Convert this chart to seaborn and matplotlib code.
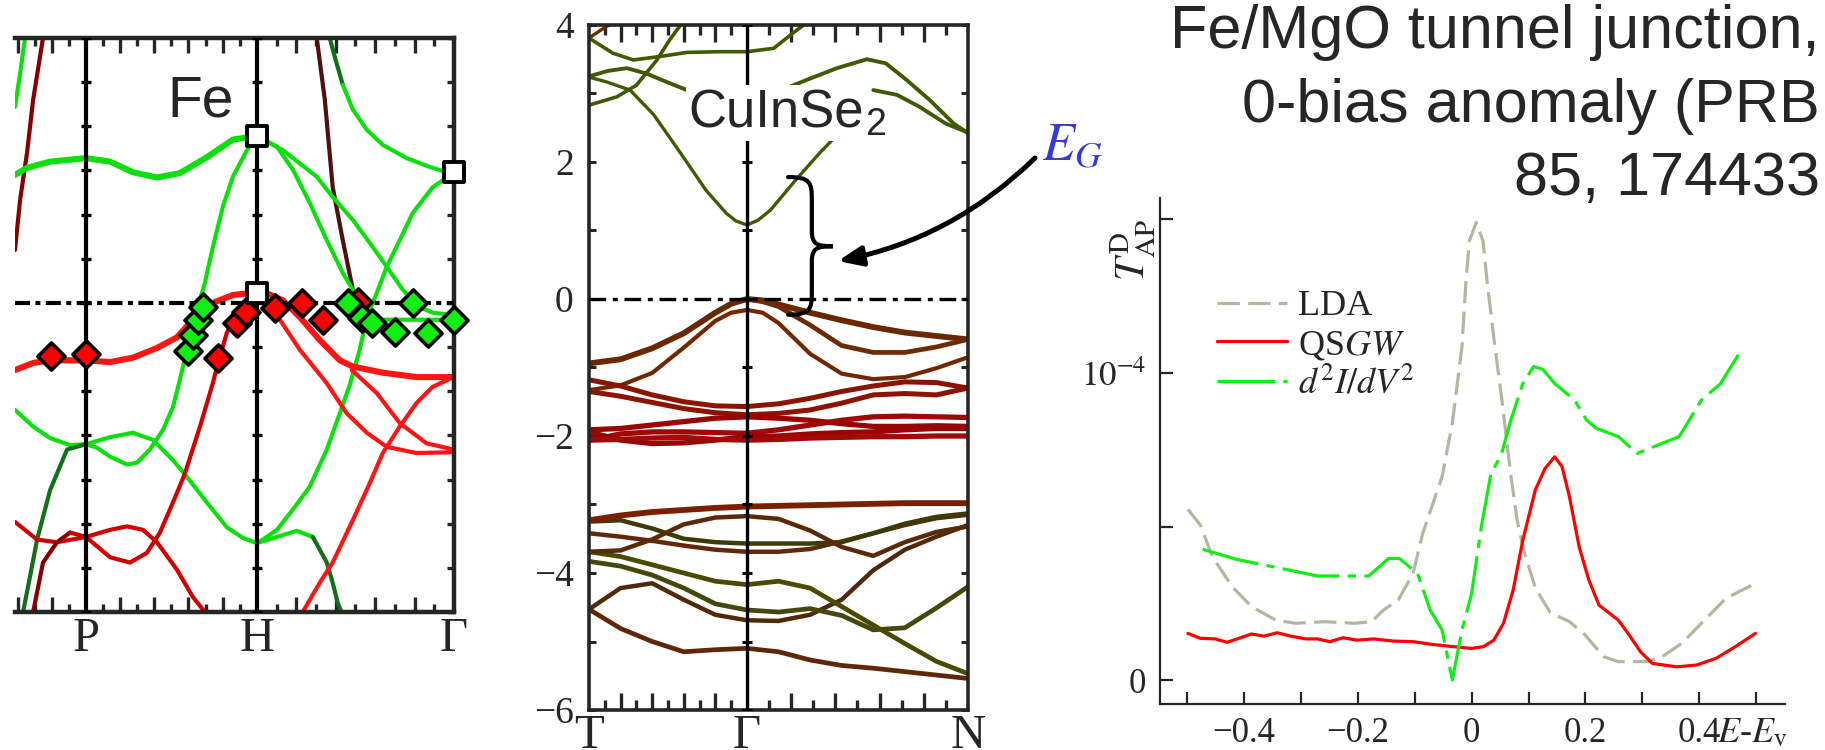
import numpy as np
import matplotlib
matplotlib.use("Agg")
import matplotlib.pyplot as plt
import seaborn as sns
from matplotlib.path import Path
from matplotlib.patches import PathPatch, FancyArrowPatch

# ---------------- Fe bands (k along N-P-H-Gamma, E in eV) ----------------
fe_kP, fe_kH, fe_kG = 0.5, 1.366, 2.366

fe_g0_k = [0.140, 0.166, 0.191]
fe_g0_e = [2.22, 2.60, 3.00]
fe_m1_k = [0.140, 0.166, 0.201, 0.232, 0.282]
fe_m1_e = [0.60, 1.17, 1.70, 2.30, 3.00]
fe_g1_k = [0.140, 0.201, 0.318, 0.500, 0.622, 0.738, 0.860, 0.976, 1.113, 1.245, 1.366]
fe_g1_e = [1.45, 1.53, 1.60, 1.64, 1.60, 1.48, 1.42, 1.47, 1.65, 1.85, 1.89]
fe_g2_k = [1.366, 1.468, 1.549, 1.635, 1.721, 1.802, 1.863, 1.924, 2.005, 2.177, 2.364]
fe_g2_e = [1.89, 1.77, 1.51, 1.13, 0.71, 0.34, 0.11, -0.11, -0.19, -0.19, -0.19]
fe_g3_k = [1.366, 1.498, 1.670, 1.751, 1.853, 1.939, 2.025, 2.106, 2.192, 2.258, 2.364]
fe_g3_e = [1.89, 1.73, 1.43, 1.20, 0.94, 0.68, 0.41, 0.15, -0.05, -0.11, -0.14]
fe_dg4_k = [1.736, 1.761, 1.802]
fe_dg4_e = [3.00, 2.79, 2.47]
fe_g4_k = [1.802, 1.853, 1.924, 2.005, 2.126, 2.243, 2.329, 2.364]
fe_g4_e = [2.47, 2.19, 1.96, 1.79, 1.64, 1.54, 1.48, 1.47]
fe_g5_k = [1.366, 1.397, 1.468, 1.549, 1.635, 1.721, 1.787, 1.837, 1.888, 1.924, 1.974,
           2.025, 2.091, 2.157, 2.258, 2.364]
fe_g5_e = [-2.72, -2.68, -2.57, -2.34, -2.08, -1.66, -1.25, -0.93, -0.53, -0.16, 0.11,
           0.41, 0.71, 1.02, 1.31, 1.47]
fe_g6_k = [0.500, 0.556, 0.622, 0.708, 0.758, 0.824, 0.890, 0.941, 0.976, 1.012, 1.042,
           1.078, 1.103, 1.143, 1.194, 1.245, 1.316, 1.366]
fe_g6_e = [-1.60, -1.64, -1.74, -1.83, -1.81, -1.66, -1.44, -1.18, -0.87, -0.53, -0.23,
           0.03, 0.23, 0.63, 1.09, 1.43, 1.73, 1.89]
fe_g7_k = [0.140, 0.232, 0.318, 0.419, 0.500, 0.622, 0.738, 0.839, 0.941, 1.012, 1.113,
           1.214, 1.295, 1.366]
fe_g7_e = [-1.21, -1.40, -1.53, -1.61, -1.60, -1.52, -1.47, -1.55, -1.78, -1.97, -2.26,
           -2.54, -2.66, -2.72]
fe_g8_k = [1.366, 1.468, 1.569, 1.650]
fe_g8_e = [-2.72, -2.65, -2.58, -2.65]
fe_dg8_k = [1.650, 1.721, 1.751, 1.777, 1.797]
fe_dg8_e = [-2.65, -2.94, -3.17, -3.40, -3.51]
fe_dg9_k = [0.181, 0.216, 0.252, 0.318, 0.404, 0.500]
fe_dg9_e = [-3.50, -3.10, -2.68, -2.12, -1.66, -1.60]
fe_r1_k = [0.140, 0.232, 0.318, 0.500, 0.622, 0.738, 0.860, 0.961, 1.042, 1.143, 1.245,
           1.366, 1.417, 1.498, 1.584, 1.685, 1.787, 1.853, 2.005, 2.177, 2.364]
fe_r1_e = [-0.76, -0.68, -0.65, -0.65, -0.67, -0.62, -0.51, -0.39, -0.19, 0.00, 0.09,
           0.12, 0.11, 0.03, -0.16, -0.42, -0.65, -0.72, -0.79, -0.84, -0.84]
fe_r2_k = [1.397, 1.483, 1.584, 1.635, 1.721, 1.822, 1.924, 2.025, 2.177, 2.364]
fe_r2_e = [0.03, -0.19, -0.53, -0.67, -0.91, -1.25, -1.47, -1.63, -1.70, -1.69]
fe_r3_k = [1.848, 1.974, 2.091, 2.227, 2.364]
fe_r3_e = [-0.76, -1.02, -1.36, -1.59, -1.66]
fe_r4_k = [1.599, 1.685, 1.751, 1.853, 1.939, 2.005, 2.091, 2.177, 2.258, 2.364]
fe_r4_e = [-3.50, -3.17, -2.94, -2.46, -2.04, -1.70, -1.40, -1.13, -0.95, -0.84]
fe_r5_k = [0.140, 0.252, 0.353, 0.500, 0.622, 0.708, 0.789, 0.860, 0.961, 1.042, 1.103]
fe_r5_e = [-2.48, -2.68, -2.71, -2.65, -2.57, -2.53, -2.57, -2.71, -3.02, -3.33, -3.50]
fe_dr6_k = [0.232, 0.282, 0.353, 0.419]
fe_dr6_e = [-3.50, -2.94, -2.71, -2.60]
fe_r6_k = [0.419, 0.500, 0.622, 0.723, 0.809, 0.875, 0.941, 1.002, 1.078, 1.143, 1.169,
           1.214, 1.245, 1.316, 1.366]
fe_r6_e = [-2.60, -2.65, -2.88, -2.94, -2.83, -2.60, -2.26, -1.93, -1.40, -0.91, -0.68,
           -0.34, -0.19, -0.02, 0.07]
fe_m2_k = [1.670, 1.711, 1.751, 1.802, 1.853, 1.878]
fe_m2_e = [3.00, 2.30, 1.31, 0.71, 0.15, 0.03]

# experimental points
fe_sq_k = [1.366, 1.366, 2.366]
fe_sq_e = [1.89, 0.11, 1.48]
fe_red_k = [0.323, 0.500, 1.169, 1.265, 1.311, 1.457, 1.594, 1.701, 1.878]
fe_red_e = [-0.60, -0.58, -0.62, -0.23, -0.10, -0.06, 0.00, -0.19, 0.01]
fe_grn_k = [1.017, 1.042, 1.067, 1.093, 1.827, 1.898, 1.949, 2.065, 2.157, 2.233, 2.366]
fe_grn_e = [-0.55, -0.36, -0.19, -0.05, 0.00, -0.17, -0.23, -0.33, 0.00, -0.34, -0.19]

# ---------------- CuInSe2 bands (T-Gamma-N) ----------------
cis_kT, cis_kG, cis_kN = 0.0, 1.0, 2.4
cis_k13 = [0.0, 0.2, 0.4, 0.6, 0.8, 1.0, 1.2, 1.4, 1.6, 1.8, 2.0, 2.2, 2.4]
cis_k15 = [0.0, 0.2, 0.4, 0.6, 0.8, 0.9, 1.0, 1.1, 1.2, 1.4, 1.6, 1.8, 2.0, 2.2, 2.4]

cis_c1_k = [0.0, 0.11, 0.26, 0.41, 0.58, 0.74, 0.87, 0.93, 1.0, 1.07, 1.15, 1.31, 1.46, 1.54, 1.65]
cis_c1_e = [3.24, 3.17, 3.05, 2.69, 2.13, 1.59, 1.25, 1.14, 1.08, 1.15, 1.30, 1.74, 2.13, 2.32, 2.81]
cis_cb_k = [0.0, 0.12, 0.24, 0.365, 0.49, 0.62, 0.83, 1.0, 1.1, 1.22, 1.38, 1.57, 1.76, 1.88,
            2.01, 2.16, 2.31, 2.40]
cis_cb_e = [3.25, 3.33, 3.37, 3.29, 3.17, 3.05, 2.98, 2.95, 2.98, 3.05, 3.20, 3.37, 3.50, 3.44,
            3.20, 2.90, 2.56, 2.42]
cis_ce_k = [1.80, 1.95, 2.09, 2.26, 2.40]
cis_ce_e = [3.05, 2.98, 2.81, 2.56, 2.43]
cis_cc_k = [0.0, 0.175, 0.30, 0.43, 0.51, 0.58]
cis_cc_e = [2.83, 2.95, 3.12, 3.49, 3.78, 4.0]
cis_ca_k = [0.0, 0.15, 0.28, 0.45, 0.62, 0.83, 1.0, 1.17, 1.29, 1.36]
cis_ca_e = [3.81, 3.59, 3.49, 3.54, 3.60, 3.61, 3.61, 3.66, 3.88, 4.0]
cis_cf_k = [0.0, 0.11, 0.17]
cis_cf_e = [3.81, 3.98, 4.03]

cis_v1_e = [-0.94, -0.88, -0.72, -0.50, -0.20, -0.07, 0.0, -0.02, -0.08, -0.20, -0.31, -0.41,
            -0.49, -0.54, -0.59]
cis_v1b_k = [1.0, 1.1, 1.2, 1.4, 1.6, 1.8, 2.0, 2.2, 2.4]
cis_v1b_e = [0.0, -0.04, -0.11, -0.38, -0.68, -0.78, -0.78, -0.70, -0.59]
cis_v2_e = [-1.33, -1.26, -1.08, -0.71, -0.32, -0.20, -0.16, -0.20, -0.35, -0.80, -1.09, -1.17,
            -1.14, -1.01, -0.85]
cis_v4_e = [-1.18, -1.27, -1.40, -1.50, -1.56, -1.57, -1.53, -1.45, -1.35, -1.27, -1.21, -1.22, -1.30]
cis_v5_e = [-1.35, -1.42, -1.51, -1.60, -1.66, -1.69, -1.67, -1.62, -1.52, -1.40, -1.38, -1.40, -1.30]
cis_v6_e = [-1.91, -1.89, -1.84, -1.79, -1.74, -1.72, -1.74, -1.77, -1.82, -1.86, -1.86, -1.85, -1.86]
cis_v7_e = [-2.06, -1.97, -1.94, -1.94, -1.95, -1.96, -1.91, -1.84, -1.77, -1.72, -1.71, -1.72, -1.73]
cis_v8_e = [-1.94, -2.06, -2.11, -2.10, -2.06, -2.01, -2.00, -1.97, -1.95, -1.94, -1.91, -1.89, -1.89]
cis_v9_e = [-2.06, -2.05, -2.03, -2.02, -2.05, -2.06, -2.05, -2.03, -2.02, -2.01, -2.01, -2.00, -2.00]

cis_l1_e = [-3.23, -3.16, -3.11, -3.08, -3.05, -3.03, -3.02, -3.01, -3.00, -2.99, -2.98, -2.98, -2.98]
cis_l2_e = [-3.69, -3.67, -3.51, -3.29, -3.19, -3.17, -3.21, -3.38, -3.62, -3.75, -3.55, -3.40, -3.32]
cis_l3_e = [-3.25, -3.23, -3.35, -3.50, -3.55, -3.57, -3.57, -3.57, -3.55, -3.42, -3.28, -3.18, -3.13]
cis_l4_e = [-3.42, -3.47, -3.53, -3.60, -3.66, -3.69, -3.69, -3.65, -3.54, -3.42, -3.30, -3.20, -3.15]
cis_l5_e = [-3.69, -3.76, -3.88, -4.00, -4.12, -4.17, -4.12, -4.22, -4.49, -4.76, -5.03, -5.29, -5.47]
cis_l6_e = [-3.83, -3.90, -4.03, -4.22, -4.45, -4.54, -4.57, -4.52, -4.62, -4.83, -4.80, -4.51, -4.20]
cis_l7_e = [-4.53, -4.22, -4.15, -4.39, -4.61, -4.69, -4.70, -4.61, -4.39, -3.96, -3.66, -3.47, -3.30]
cis_l8_e = [-4.53, -4.81, -5.00, -5.15, -5.12, -5.10, -5.15, -5.27, -5.35, -5.39, -5.44, -5.49, -5.54]

# ---------------- Fe/MgO transmission (units of 1e-4) ----------------
lda_x = [-0.499, -0.477, -0.456, -0.421, -0.387, -0.344, -0.310, -0.258, -0.206, -0.176, -0.155,
         -0.129, -0.103, -0.086, -0.052, -0.034, -0.017, -0.010, -0.004, 0.008, 0.020, 0.027,
         0.040, 0.054, 0.068, 0.080, 0.092, 0.112, 0.138, 0.172, 0.198, 0.232, 0.258, 0.310,
         0.335, 0.370, 0.404, 0.447, 0.499]
lda_y = [0.556, 0.505, 0.402, 0.304, 0.239, 0.195, 0.185, 0.190, 0.185, 0.190, 0.228,
         0.261, 0.347, 0.478, 0.662, 0.836, 1.086, 1.30, 1.43, 1.49, 1.43, 1.30,
         1.10, 0.90, 0.68, 0.52, 0.42, 0.30, 0.22, 0.19, 0.15, 0.076, 0.06, 0.06,
         0.076, 0.12, 0.185, 0.266, 0.315]
qsgw_x = [-0.499, -0.477, -0.451, -0.430, -0.409, -0.387, -0.365, -0.342, -0.318, -0.292,
          -0.271, -0.249, -0.226, -0.202, -0.172, -0.138, -0.103, -0.069, -0.034, 0.0,
          0.021, 0.039, 0.056, 0.073, 0.090, 0.112, 0.129, 0.146, 0.159, 0.172, 0.189,
          0.206, 0.224, 0.258, 0.275, 0.297, 0.318, 0.361, 0.396, 0.430, 0.464, 0.499]
qsgw_y = [0.152, 0.136, 0.134, 0.123, 0.136, 0.150, 0.143, 0.154, 0.143, 0.134,
          0.134, 0.125, 0.138, 0.130, 0.134, 0.127, 0.125, 0.116, 0.109, 0.103,
          0.109, 0.130, 0.185, 0.293, 0.456, 0.619, 0.689, 0.727, 0.695, 0.597, 0.434,
          0.326, 0.244, 0.195, 0.152, 0.092, 0.054, 0.043, 0.049, 0.071, 0.109, 0.152]
didv_x = [-0.473, -0.413, -0.344, -0.271, -0.181, -0.146, -0.127, -0.095, -0.073, -0.052,
          -0.034, -0.017, 0.0, 0.017, 0.034, 0.052, 0.069, 0.090, 0.109, 0.125, 0.146,
          0.181, 0.202, 0.219, 0.258, 0.291, 0.327, 0.365, 0.404, 0.437, 0.469]
didv_y = [0.426, 0.393, 0.367, 0.339, 0.339, 0.396, 0.396, 0.347, 0.228, 0.163,
          0.0, 0.163, 0.282, 0.499, 0.673, 0.733, 0.847, 0.966, 1.021, 1.012, 0.966,
          0.912, 0.847, 0.820, 0.793, 0.738, 0.765, 0.793, 0.912, 0.964, 1.059]

title_text = "Fe/MgO tunnel junction,\n0-bias anomaly (PRB\n85, 174433"

GREEN = "#0ce00c"
DKGREEN = "#12701a"
RED = "#ff1414"
MIDRED = "#d20000"
DKRED = "#860000"
MAROON = "#4e1010"
OLIVE = "#3f5a00"
BROWN = "#6e2a00"
SERIF = "Liberation Serif"

sns.set_style("ticks")
plt.rcParams["font.family"] = [SERIF, "DejaVu Serif"]
plt.rcParams["mathtext.fontset"] = "stix"

W, H = 1825, 750
fig = plt.figure(figsize=(W / 100, H / 100), dpi=100)


def px_axes(left, top, right, bottom):
    return fig.add_axes([left / W, 1 - bottom / H, (right - left) / W, (bottom - top) / H])


def band(ax, k, e, color, lw=3.0, z=2):
    sns.lineplot(x=k, y=e, ax=ax, color=color, linewidth=lw, estimator=None,
                 sort=False, legend=False, zorder=z)


def sym_ticks(points, steps, left_steps=0):
    major, minor = [], []
    for (a, b), n in zip(zip(points[:-1], points[1:]), steps):
        d = (b - a) / n
        for j in range(1, n):
            (major if j % 2 == 0 else minor).append(a + j * d)
    if left_steps:
        d = (points[1] - points[0]) / steps[0]
        for j in range(1, left_steps + 1):
            (major if j % 2 == 0 else minor).append(points[0] - j * d)
    return major, minor


def serif_ticklabels(ax):
    for lab in ax.get_xticklabels() + ax.get_yticklabels():
        lab.set_fontfamily(SERIF)


# ======================= Fe panel =======================
ax1 = px_axes(15, 38, 454, 612)
fe_lines = [
    (fe_g0_k, fe_g0_e, GREEN, 3.0), (fe_m1_k, fe_m1_e, DKRED, 3.0),
    (fe_m2_k, fe_m2_e, MAROON, 3.0), (fe_dg4_k, fe_dg4_e, DKGREEN, 3.0),
    (fe_g4_k, fe_g4_e, GREEN, 3.0), (fe_g2_k, fe_g2_e, GREEN, 3.0),
    (fe_g3_k, fe_g3_e, GREEN, 3.0), (fe_g5_k, fe_g5_e, GREEN, 3.0),
    (fe_g6_k, fe_g6_e, GREEN, 3.0), (fe_g7_k, fe_g7_e, GREEN, 3.0),
    (fe_g8_k, fe_g8_e, GREEN, 3.0), (fe_dg8_k, fe_dg8_e, DKGREEN, 3.0),
    (fe_dg9_k, fe_dg9_e, DKGREEN, 3.0), (fe_r2_k, fe_r2_e, RED, 3.0),
    (fe_r3_k, fe_r3_e, RED, 3.0), (fe_r4_k, fe_r4_e, RED, 3.0),
    (fe_r5_k, fe_r5_e, MIDRED, 3.0), (fe_dr6_k, fe_dr6_e, DKRED, 3.0),
    (fe_r6_k, fe_r6_e, MIDRED, 3.0), (fe_g1_k, fe_g1_e, GREEN, 4.4),
    (fe_r1_k, fe_r1_e, RED, 4.4),
]
for k, e, c, lw in fe_lines:
    band(ax1, k, e, c, lw)

for kx in (fe_kP, fe_kH):
    ax1.axvline(kx, color="k", lw=3.0, zorder=3)
ax1.axhline(0, color="k", lw=3.0, dashes=(3.6, 1.3, 1.2, 1.3), zorder=3)

fe_yt = np.arange(-3.5, 3.01, 0.5)
for kx in (fe_kP, fe_kH):
    ax1.plot([kx] * len(fe_yt), fe_yt, ls="none", marker="_", ms=7, mew=2.4, color="k", zorder=3)

sns.scatterplot(x=fe_red_k, y=fe_red_e, ax=ax1, marker="D", s=190, color="#ff0000",
                edgecolor="k", linewidth=2.6, zorder=6, clip_on=False)
sns.scatterplot(x=fe_grn_k, y=fe_grn_e, ax=ax1, marker="D", s=190, color="#11ee11",
                edgecolor="k", linewidth=2.6, zorder=6, clip_on=False)
sns.scatterplot(x=fe_sq_k, y=fe_sq_e, ax=ax1, marker="s", s=190, color="white",
                edgecolor="k", linewidth=2.8, zorder=7, clip_on=False)

ax1.set_xlim(0.140, fe_kG)
ax1.set_ylim(-3.5, 3.0)
ax1.spines["left"].set_visible(False)
for s in ("top", "bottom", "right"):
    ax1.spines[s].set_linewidth(3.2)
fe_major, fe_minor = sym_ticks([fe_kP, fe_kH, fe_kG], [10, 10], left_steps=4)
ax1.set_xticks(fe_major)
ax1.set_xticks(fe_minor, minor=True)
ax1.tick_params(axis="x", which="both", direction="in", top=True, bottom=True,
                labelbottom=False, width=2.4)
ax1.tick_params(axis="x", which="major", length=11)
ax1.tick_params(axis="x", which="minor", length=6)
ax1.set_yticks(fe_yt)
ax1.tick_params(axis="y", left=False, right=True, direction="in", length=5, width=2.4,
                labelleft=False)
ax1.set_xlabel("")
ax1.set_ylabel("")
for kx, lab in zip((fe_kP, fe_kH, fe_kG), ("P", "H", "Γ")):
    ax1.text(kx, -0.008, lab, transform=ax1.get_xaxis_transform(), ha="center", va="top",
             fontsize=35, family=SERIF)
ax1.text(0.915, 2.11, "Fe", fontsize=41, family="Liberation Sans", zorder=8)

# ======================= CuInSe2 panel =======================
ax2 = px_axes(589, 25, 968, 710)
cis_lines = [
    (cis_cf_k, cis_cf_e, BROWN, 2.4), (cis_ca_k, cis_ca_e, OLIVE, 2.6),
    (cis_cc_k, cis_cc_e, OLIVE, 2.6), (cis_cb_k, cis_cb_e, OLIVE, 2.8),
    (cis_ce_k, cis_ce_e, OLIVE, 2.8), (cis_c1_k, cis_c1_e, OLIVE, 2.4),
    (cis_k15, cis_v1_e, "#6a2800", 4.2), (cis_v1b_k, cis_v1b_e, "#6e2a00", 3.4),
    (cis_k15, cis_v2_e, "#742600", 3.0),
    (cis_k13, cis_v4_e, "#8a1400", 3.6), (cis_k13, cis_v5_e, "#8e1200", 3.6),
    (cis_k13, cis_v6_e, "#9a0606", 3.8), (cis_k13, cis_v7_e, "#a00808", 3.8),
    (cis_k13, cis_v8_e, "#9a0404", 3.8), (cis_k13, cis_v9_e, "#a20a0a", 3.8),
    (cis_k13, cis_l8_e, "#5e2808", 3.4), (cis_k13, cis_l7_e, "#52280a", 3.2),
    (cis_k13, cis_l6_e, "#44480a", 3.4), (cis_k13, cis_l5_e, "#4a4a02", 3.4),
    (cis_k13, cis_l4_e, "#62280a", 3.2), (cis_k13, cis_l3_e, "#3c3a06", 3.2),
    (cis_k13, cis_l2_e, "#5a2a08", 3.2), (cis_k13, cis_l1_e, "#7a2000", 4.2),
]
for k, e, c, lw in cis_lines:
    band(ax2, k, e, c, lw)

ax2.axvline(cis_kG, color="k", lw=2.4, zorder=3)
ax2.axhline(0, color="k", lw=2.4, dashes=(5, 2, 1.5, 2), zorder=3)
cis_yt = np.arange(-6, 4.01, 1)
ax2.plot([cis_kG] * len(cis_yt), cis_yt, ls="none", marker="_", ms=7, mew=2.2, color="k", zorder=3)

ax2.set_xlim(cis_kT, cis_kN)
ax2.set_ylim(-6, 4)
for s in ax2.spines.values():
    s.set_linewidth(2.6)
cis_major, cis_minor = sym_ticks([cis_kT, cis_kG, cis_kN], [10, 10])
ax2.set_xticks(cis_major)
ax2.set_xticks(cis_minor, minor=True)
ax2.tick_params(axis="x", which="both", direction="in", top=True, bottom=True,
                labelbottom=False, width=2.4)
ax2.tick_params(axis="x", which="major", length=12)
ax2.tick_params(axis="x", which="minor", length=7)
ax2.set_yticks([4, 2, 0, -2, -4, -6])
ax2.set_yticklabels(["4", "2", "0", "\u22122", "\u22124", "\u22126"])
ax2.set_yticks([3, 1, -1, -3, -5], minor=True)
ax2.tick_params(axis="y", which="both", direction="in", left=True, right=True, length=5,
                width=2.2, labelsize=27, pad=11)
ax2.set_xlabel("")
ax2.set_ylabel("")
serif_ticklabels(ax2)
for kx, lab in zip((cis_kT, cis_kG, cis_kN), ("T", "Γ", "N")):
    ax2.text(kx, -0.006, lab, transform=ax2.get_xaxis_transform(), ha="center", va="top",
             fontsize=35, family=SERIF)

t_cis = ax2.text(0.63, 2.51, "CuInSe", fontsize=38, family="Liberation Sans", va="baseline",
                 zorder=8, bbox=dict(facecolor="white", edgecolor="none", pad=2))
ax2.annotate("2", xy=(1.0, 0.0), xycoords=t_cis, xytext=(0.5, -3.5), textcoords="offset points",
             fontsize=27, family="Liberation Sans", va="bottom", ha="left", zorder=8,
             bbox=dict(facecolor="white", edgecolor="none", pad=1))

# gap brace
bx, btop, bbot, bmid, bw = 1.411, 1.78, -0.23, 0.77, 0.15
brace = Path(
    [(bx - bw, btop), (bx - 0.01, btop), (bx, btop - 0.08), (bx, btop - 0.33),
     (bx, bmid + 0.23),
     (bx, bmid + 0.03), (bx + 0.03, bmid), (bx + 0.133, bmid),
     (bx + 0.03, bmid), (bx, bmid - 0.03), (bx, bmid - 0.23),
     (bx, bbot + 0.33),
     (bx, bbot + 0.08), (bx - 0.01, bbot), (bx - bw, bbot)],
    [Path.MOVETO, Path.CURVE4, Path.CURVE4, Path.CURVE4,
     Path.LINETO,
     Path.CURVE4, Path.CURVE4, Path.CURVE4,
     Path.CURVE4, Path.CURVE4, Path.CURVE4,
     Path.LINETO,
     Path.CURVE4, Path.CURVE4, Path.CURVE4])
ax2.add_patch(PathPatch(brace, facecolor="none", edgecolor="k", lw=3.0, zorder=6,
                        capstyle="round"))

fig.text(1042 / W, 1 - 160 / H, r"$E_G$", color="#3838d8", fontsize=38, ha="left",
         va="baseline")
arrow = FancyArrowPatch(posA=(1035 / W, 1 - 158 / H), posB=(838 / W, 1 - 261 / H),
                        transform=fig.transFigure, connectionstyle="arc3,rad=-0.15",
                        arrowstyle="-|>,head_length=1.2,head_width=0.5", mutation_scale=12,
                        lw=3.6, color="k", shrinkA=0, shrinkB=0)
fig.add_artist(arrow)

# ======================= Fe/MgO transmission panel =======================
ax3 = px_axes(1160, 198, 1785, 704)
sns.lineplot(x=lda_x, y=lda_y, ax=ax3, color="#b6b6a0", linewidth=2.3, label="LDA",
             estimator=None)
ax3.lines[-1].set_dashes([7, 2.6])
sns.lineplot(x=qsgw_x, y=qsgw_y, ax=ax3, color="#ff0000", linewidth=2.3,
             label=r"QS$GW$", estimator=None)
sns.lineplot(x=didv_x, y=didv_y, ax=ax3, color="#11ee11", linewidth=2.3,
             label=r"$d^2I/dV^2$", estimator=None)
ax3.lines[-1].set_dashes([18, 2.6, 2.6, 2.6])

ax3.set_xlim(-0.548, 0.551)
ax3.set_ylim(-0.078, 1.57)
sns.despine(ax=ax3)
for s in ("left", "bottom"):
    ax3.spines[s].set_linewidth(1.6)
ax3.set_xticks([-0.4, -0.2, 0, 0.2, 0.4])
ax3.set_xticklabels(["\u22120.4", "\u22120.2", "0", "0.2", "0.4"])
ax3.set_xticks([-0.5, -0.3, -0.1, 0.1, 0.3, 0.5], minor=True)
ax3.set_yticks([0, 1])
ax3.set_yticklabels(["0", r"$10^{-4}$"])
ax3.set_yticks([0.5, 1.5], minor=True)
ax3.tick_params(axis="both", which="both", direction="in", length=9, width=1.6,
                labelsize=25)
ax3.tick_params(axis="x", pad=9)
ax3.tick_params(axis="y", pad=10)
ax3.set_xlabel("")
ax3.set_ylabel("")
serif_ticklabels(ax3)
ax3.text(0.432, -0.026, r"$E$-$E_{\rm v}$", transform=ax3.get_xaxis_transform(),
         ha="left", va="top", fontsize=26)
fig.text(1133 / W, 1 - 250 / H, r"$T^{\rm D}_{\rm AP}$", rotation=90, ha="center",
         va="center", fontsize=30)
leg = ax3.legend(loc="upper left", bbox_to_anchor=(0.091, 0.818), frameon=False, fontsize=26,
                 handlelength=1.95, handletextpad=0.3, labelspacing=0.15, borderaxespad=0,
                 borderpad=0)
for t in leg.get_texts():
    t.set_fontfamily(SERIF)

fig.text(1820 / W, 1 - 4 / H, title_text, ha="right", va="top", fontsize=44,
         family="Liberation Sans", linespacing=1.38, multialignment="right")

fig.savefig("out.png", dpi=100)
